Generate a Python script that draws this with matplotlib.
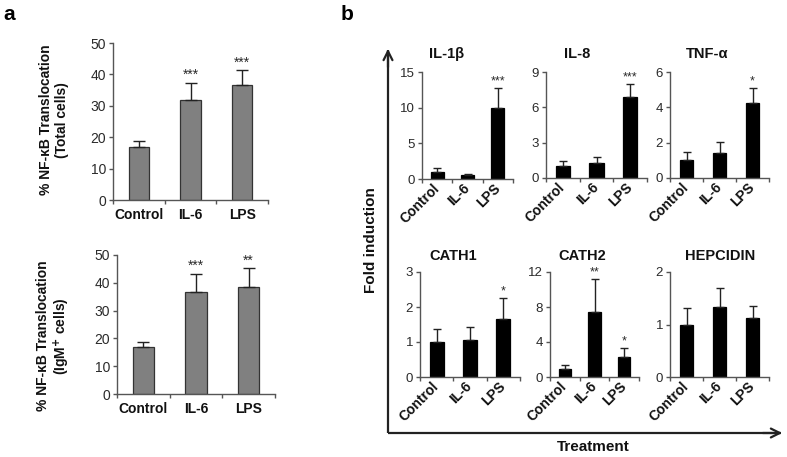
import numpy as np
import matplotlib
matplotlib.use("Agg")
import matplotlib.pyplot as plt

plt.rcParams['font.family'] = ['Liberation Sans', 'DejaVu Sans']

# ── data ──────────────────────────────────────────────────────────────────────
cats = ["Control", "IL-6", "LPS"]

total_mean = [17.0, 32.0, 36.6]
total_err = [1.9, 5.4, 4.8]
total_sig = ["", "***", "***"]

igm_mean = [17.0, 36.7, 38.5]
igm_err = [1.8, 6.5, 6.8]
igm_sig = ["", "***", "**"]

genes = ["IL-1β", "IL-8", "TNF-α", "CATH1", "CATH2", "HEPCIDIN"]
gene_mean = [
    [1.0, 0.5, 10.0],
    [1.0, 1.25, 6.9],
    [1.0, 1.4, 4.25],
    [1.0, 1.07, 1.65],
    [0.9, 7.4, 2.3],
    [1.0, 1.33, 1.12],
]
gene_err = [
    [0.6, 0.2, 2.7],
    [0.45, 0.55, 1.1],
    [0.5, 0.65, 0.85],
    [0.37, 0.37, 0.6],
    [0.5, 3.8, 1.0],
    [0.32, 0.37, 0.23],
]
gene_sig = [
    ["", "", "***"],
    ["", "", "***"],
    ["", "", "*"],
    ["", "", "*"],
    ["", "**", "*"],
    ["", "", ""],
]
gene_yticks = [
    [0, 5, 10, 15],
    [0, 3, 6, 9],
    [0, 2, 4, 6],
    [0, 1, 2, 3],
    [0, 4, 8, 12],
    [0, 1, 2],
]

# ── layout helpers (pixel coords, y from top) ────────────────────────────────
W, H = 787, 457
fig = plt.figure(figsize=(W / 100, H / 100), dpi=100)

def ax_px(l, r, t, b):
    return fig.add_axes([l / W, 1 - b / H, (r - l) / W, (b - t) / H])

def ftext(x, y, s, **kw):
    fig.text(x / W, 1 - y / H, s, **kw)

SPINE = "#555555"
TXT = "#2a2a2a"

def style(ax, yticks, size=9.5):
    for s in ("top", "right"):
        ax.spines[s].set_visible(False)
    for s in ("left", "bottom"):
        ax.spines[s].set_color(SPINE)
        ax.spines[s].set_linewidth(1.0)
    ax.set_ylim(yticks[0], yticks[-1])
    ax.set_yticks(yticks)
    ax.tick_params(axis="y", length=3, width=1, color=SPINE, labelsize=size,
                   labelcolor=TXT, pad=2)
    ax.set_xlim(0, 3)
    ax.set_xticks([0, 1, 2, 3])
    ax.set_xticklabels([])
    ax.tick_params(axis="x", which="major", length=3, width=1, color=SPINE,
                   direction="out")

def bars(ax, mean, err, sig, color, edge, width, capsize, star_size):
    x = np.arange(3) + 0.5
    ax.bar(x, mean, width=width, color=color, edgecolor=edge, linewidth=0.9,
           zorder=2)
    ax.errorbar(x, mean, yerr=[np.zeros(3), err], fmt="none", ecolor="#222222",
                elinewidth=1.0, capsize=capsize, capthick=1.0, zorder=3)
    for xi, m, e, s in zip(x, mean, err, sig):
        if s:
            ax.annotate(s, (xi, m + e), xytext=(0, 0.5), textcoords="offset points",
                        ha="center", va="bottom", fontsize=star_size, color=TXT)

# ── overlay for arrows / panel letters ───────────────────────────────────────
ov = fig.add_axes([0, 0, 1, 1])
ov.set_xlim(0, W)
ov.set_ylim(H, 0)
ov.axis("off")
ov.plot([388, 388], [433, 50], color="#222222", lw=1.6, solid_capstyle="butt")
ov.plot([388, 781], [433, 433], color="#222222", lw=1.6, solid_capstyle="butt")
ov.annotate("", xy=(388, 46), xytext=(388, 70),
            arrowprops=dict(arrowstyle="->", color="#222222", lw=1.6,
                            mutation_scale=16))
ov.annotate("", xy=(785, 433), xytext=(760, 433),
            arrowprops=dict(arrowstyle="->", color="#222222", lw=1.6,
                            mutation_scale=16))

ftext(9, 14, "a", fontsize=15, fontweight="bold", ha="center", va="center")
ftext(347, 14, "b", fontsize=15, fontweight="bold", ha="center", va="center")

# ── panel a ──────────────────────────────────────────────────────────────────
a_panels = [
    ((113, 268, 43, 200), total_mean, total_err, total_sig,
     "% NF-κB Translocation\n(Total cells)", 120),
    ((117, 275, 255, 394), igm_mean, igm_err, igm_sig,
     "% NF-κB Translocation\n(IgM$^{\\mathbf{+}}$ cells)", 336),
]
for box, mean, err, sig, ylab, ylab_y in a_panels:
    ax = ax_px(*box)
    style(ax, [0, 10, 20, 30, 40, 50], size=10)
    bars(ax, mean, err, sig, "#808080", "#333333", 0.4, 4, 10)
    ax.set_xticks(np.arange(3) + 0.5, cats, minor=True)
    ax.tick_params(axis="x", which="minor", length=0, pad=6, labelsize=10,
                   labelcolor="#111111")
    for lab in ax.get_xticklabels(minor=True):
        lab.set_fontweight("bold")
    ftext(54, ylab_y, ylab, rotation=90, ha="center", va="center",
          fontsize=10, fontweight="bold", color="#111111", linespacing=1.15)

# ── panel b ──────────────────────────────────────────────────────────────────
b_boxes = [
    (422, 513, 72, 179), (546, 647, 72, 178), (670, 769, 72, 178),
    (420, 520, 272, 377), (550, 639, 272, 377), (670, 769, 272, 377),
]
title_pos = [(447, 54), (577, 54), (707, 54), (453, 256), (582, 256), (720, 256)]

for i, gene in enumerate(genes):
    ax = ax_px(*b_boxes[i])
    style(ax, gene_yticks[i], size=9.5)
    bars(ax, gene_mean[i], gene_err[i], gene_sig[i], "black", "black", 0.42, 3, 9)
    ax.set_xticks(np.arange(3) + 0.5, cats, minor=True)
    ax.tick_params(axis="x", which="minor", length=0, pad=5, labelsize=10,
                   labelcolor="#111111")
    for lab in ax.get_xticklabels(minor=True):
        lab.set_fontweight("bold")
        lab.set_rotation(45)
        lab.set_ha("right")
        lab.set_va("center")
        lab.set_rotation_mode("anchor")
    tx, ty = title_pos[i]
    ftext(tx, ty, gene, ha="center", va="center", fontsize=10.5,
          fontweight="bold", color="#111111")

ftext(371, 240, "Fold induction", rotation=90, ha="center", va="center",
      fontsize=11, fontweight="bold", color="#111111")
ftext(593, 447, "Treatment", ha="center", va="center", fontsize=11,
      fontweight="bold", color="#111111")

fig.savefig("out.png", dpi=100)
